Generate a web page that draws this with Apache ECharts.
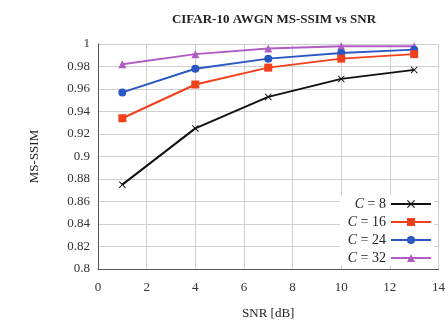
<!DOCTYPE html>
<html><head><meta charset="utf-8">
<script src="https://cdn.jsdelivr.net/npm/echarts@6/dist/echarts.min.js"></script>
<style>html,body{margin:0;padding:0;background:#fff}#c{width:448px;height:327px}</style>
</head><body><div id="c"></div>
<script>
const snr = [1, 4, 7, 10, 13];
const c8 = [0.875, 0.925, 0.953, 0.969, 0.977];
const c16 = [0.934, 0.964, 0.979, 0.987, 0.991];
const c24 = [0.957, 0.978, 0.987, 0.992, 0.995];
const c32 = [0.982, 0.991, 0.996, 0.998, 0.998];
const seriesNames = ['C = 8', 'C = 16', 'C = 24', 'C = 32'];
const seriesData = [c8, c16, c24, c32];
const colors = ['#111111', '#f2401c', '#2b57c4', '#b05cc2'];
const symbols = ['path://M0,1L1,0L5,4L9,0L10,1L6,5L10,9L9,10L5,6L1,10L0,9L4,5Z', 'rect', 'circle', 'triangle'];
const serif = '"Liberation Serif","DejaVu Serif",serif';

const chart = echarts.init(document.getElementById('c'));
chart.setOption({
  animation: false,
  title: {
    text: 'CIFAR-10 AWGN MS-SSIM vs SNR', left: 269, top: 8, textAlign: 'center',
    textStyle: {fontFamily: serif, fontSize: 13, fontWeight: 'bold', color: '#222'}
  },
  grid: {left: 98, top: 44, width: 350, height: 225},
  legend: {
    right: 14, top: 195, orient: 'vertical', align: 'right',
    itemWidth: 40, itemHeight: 10, itemGap: 4,
    backgroundColor: '#fff', padding: [2, 2, 0, 8],
    data: seriesNames,
    formatter: n => '{i|C} = ' + n.split('= ')[1],
    textStyle: {fontFamily: serif, fontSize: 14, color: '#222',
      rich: {i: {fontFamily: serif, fontStyle: 'italic', fontSize: 14, color: '#222'}}}
  },
  xAxis: {
    type: 'value', min: 0, max: 14, interval: 2,
    name: 'SNR [dB]', nameLocation: 'middle', nameGap: 38,
    nameTextStyle: {fontFamily: serif, fontSize: 13, color: '#222'},
    axisLine: {show: true, lineStyle: {color: '#555'}},
    axisTick: {show: false},
    axisLabel: {fontFamily: serif, fontSize: 13, color: '#333', margin: 12},
    splitLine: {show: true, lineStyle: {color: '#cfcfcf'}}
  },
  yAxis: {
    type: 'value', min: 0.8, max: 1, interval: 0.02,
    name: 'MS-SSIM', nameLocation: 'middle', nameGap: 57,
    nameTextStyle: {fontFamily: serif, fontSize: 13, color: '#222'},
    axisLine: {show: true, lineStyle: {color: '#555'}},
    axisTick: {show: false},
    axisLabel: {fontFamily: serif, fontSize: 13, color: '#333', margin: 8,
      formatter: v => String(parseFloat(v.toFixed(2)))},
    splitLine: {show: true, lineStyle: {color: '#cfcfcf'}}
  },
  series: seriesData.map((d, i) => ({
    name: seriesNames[i], type: 'line',
    data: d.map((v, j) => [snr[j], v]),
    symbol: symbols[i], symbolSize: i === 0 ? 7 : 8,
    lineStyle: {color: colors[i], width: 2},
    itemStyle: {color: colors[i]},
    z: 10 - i
  }))
});
</script></body></html>
